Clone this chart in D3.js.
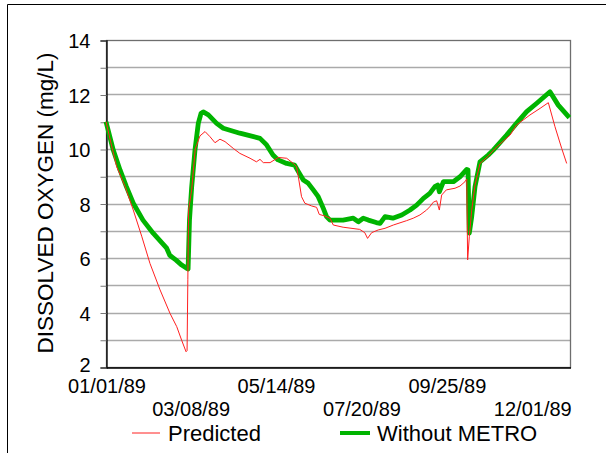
<!DOCTYPE html>
<html>
<head>
    <script src="https://d3js.org/d3.v7.min.js"></script>
    <style type="text/css">
        body { margin: 0; background: #fff; }
        svg { font-family: "Liberation Sans", Arial, sans-serif; }
    </style>
</head>
<body>
<div id="chart"></div>
<script type="text/javascript">
    // day of 1989 (0 = Jan 1), dissolved oxygen mg/L
    const predicted = [
        [0, 11.0], [5, 10.0], [8.4, 9.35], [15, 8.62], [21.4, 7.76], [28, 6.8], [34.5, 5.8],
        [42.4, 4.83], [50.2, 3.97], [55.5, 3.48], [59.3, 2.99], [62.8, 2.56], [63.6, 2.6],
        [64.2, 5.2], [64.8, 7.76], [67.2, 8.5], [70, 10.0], [73.7, 10.48], [77.7, 10.64],
        [81.6, 10.45], [85.5, 10.23], [89.4, 10.36], [93.4, 10.27], [99.9, 10.02], [105, 9.84],
        [113, 9.66], [118, 9.53], [120.8, 9.62], [123.4, 9.5], [128.7, 9.5], [135.2, 9.69],
        [141.7, 9.66], [147, 9.47], [149.5, 9.35], [150.9, 8.98], [153.4, 8.25], [156, 8.01],
        [161.3, 7.91], [165.2, 7.86], [167.3, 7.6], [171.8, 7.54], [175.7, 7.46], [178.3, 7.21],
        [186, 7.13], [199, 7.05], [203, 6.93], [205.2, 6.72], [208.4, 6.93], [213.6, 7.03],
        [218.9, 7.09], [225.4, 7.21], [235.8, 7.37], [241, 7.46], [246.3, 7.58], [251.5, 7.76],
        [254, 7.88], [256.8, 8.05], [259.4, 8.1], [261.5, 7.76], [263.3, 8.31], [267, 8.5],
        [273.8, 8.56], [277.7, 8.64], [281.6, 8.8], [283, 8.9], [283.7, 5.93], [285, 6.78],
        [286.9, 7.76], [289.5, 8.68], [293.4, 9.47], [299.9, 9.74], [305.2, 10.02], [317, 10.51],
        [322, 10.88], [332.6, 11.25], [340.5, 11.49], [347, 11.7], [352.2, 10.82], [357.5, 10.02],
        [361.4, 9.47]
    ];
    const withoutMetro = [
        [0, 11.0], [5.7, 9.96], [11, 9.23], [16, 8.62], [21.4, 8.01], [29, 7.39], [37, 6.91],
        [47.6, 6.36], [50, 6.1], [55, 5.92], [59.4, 5.74], [63.3, 5.62], [64.4, 5.6],
        [65.5, 7.4], [67.2, 8.6], [69.8, 9.96], [72.4, 10.94], [74.5, 11.3], [76.3, 11.36],
        [80.3, 11.25], [86.8, 10.94], [92, 10.76], [105, 10.58], [120.8, 10.39], [126, 10.15],
        [131, 9.78], [135, 9.6], [141.7, 9.47], [148, 9.41], [150.9, 9.17], [154.8, 8.86],
        [158.7, 8.74], [162.6, 8.5], [166.5, 8.25], [170.5, 7.82], [173, 7.52], [175.7, 7.39],
        [186, 7.39], [194, 7.46], [198, 7.33], [201.8, 7.46], [205.8, 7.39], [212, 7.3],
        [215, 7.27], [218.9, 7.52], [225, 7.46], [232, 7.58], [238.5, 7.76], [243.7, 7.94],
        [249, 8.19], [254, 8.37], [258, 8.62], [260.2, 8.68], [261.5, 8.43], [264.7, 8.8],
        [272.5, 8.8], [277.7, 8.98], [283, 9.25], [284, 9.23], [285, 6.91], [286.9, 7.52],
        [289.5, 8.62], [293.4, 9.53], [299.9, 9.78], [303.8, 9.96], [314.3, 10.51], [322, 10.94],
        [330, 11.37], [337.9, 11.68], [348.3, 12.1], [354.8, 11.61], [363.5, 11.15]
    ];
    const xTickLabels = ["01/01/89", "03/08/89", "05/14/89", "07/20/89", "09/25/89", "12/01/89"];
    const yTicks = [2, 4, 6, 8, 10, 12, 14];
    const seriesNames = ["Predicted", "Without METRO"];

    const width = 606, height = 453;
    const plotL = 106, plotR = 570, plotT = 40, plotB = 367;

    const parse = d3.timeParse("%m/%d/%y");
    const start = new Date(1989, 0, 1);
    const toDate = day => new Date(start.getTime() + day * 864e5);

    const x = d3.scaleTime()
        .domain([start, new Date(1989, 11, 31)])
        .range([plotL, plotR]);
    const y = d3.scaleLinear()
        .domain([2, 14])
        .range([plotB, plotT]);

    const svg = d3.select("#chart").append("svg")
        .attr("width", width)
        .attr("height", height);

    // outer frame
    svg.append("path")
        .attr("d", `M7.5,${height + 2}V4.5H${width + 2}`)
        .attr("fill", "none")
        .attr("stroke", "#000")
        .attr("stroke-width", 1);

    // gridlines every 1 unit
    const grid = d3.range(3, 14);
    svg.append("g")
        .selectAll("line")
        .data(grid)
        .join("line")
        .attr("x1", plotL)
        .attr("x2", plotR)
        .attr("y1", d => Math.round(y(d)) + 0.5)
        .attr("y2", d => Math.round(y(d)) + 0.5)
        .attr("stroke", "#aaaaaa")
        .attr("stroke-width", 1.5);

    // plot border
    svg.append("rect")
        .attr("x", plotL + 0.5)
        .attr("y", plotT + 0.5)
        .attr("width", plotR - plotL)
        .attr("height", plotB - plotT)
        .attr("fill", "none")
        .attr("stroke", "#6e6e6e")
        .attr("stroke-width", 1.3);

    // y axis
    const yAxis = svg.append("g")
        .attr("transform", `translate(${plotL + 0.5},0.5)`)
        .call(d3.axisLeft(y)
            .tickValues(d3.range(2, 15))
            .tickSize(6)
            .tickFormat(d => yTicks.includes(d) ? d : ""));
    yAxis.select(".domain").attr("stroke", "#000").attr("stroke-width", 1.3);
    yAxis.selectAll(".tick line").attr("stroke", "#777");
    yAxis.selectAll("text")
        .attr("font-size", 20)
        .attr("fill", "#000")
        .attr("x", -16)
        .attr("dy", d => d === 2 ? "0.2em" : "0.36em");

    // x axis
    const xDates = xTickLabels.map(parse);
    const xAxis = svg.append("g")
        .attr("transform", `translate(0.5,${plotB + 0.5})`)
        .call(d3.axisBottom(x)
            .tickValues(xDates)
            .tickSize(0)
            .tickFormat(d3.timeFormat("%m/%d/%y")));
    xAxis.select(".domain").attr("stroke", "#000").attr("stroke-width", 1.3);
    xAxis.selectAll("text")
        .attr("font-size", 20)
        .attr("fill", "#000")
        .attr("dy", 0)
        .attr("y", (d, i) => i % 2 === 0 ? 25 : 48);

    // y title
    svg.append("text")
        .attr("transform", `translate(53,203) rotate(-90)`)
        .attr("text-anchor", "middle")
        .attr("font-size", 22.5)
        .text("DISSOLVED OXYGEN (mg/L)");

    const line = d3.line()
        .x(d => x(toDate(d[0])))
        .y(d => y(d[1]));

    svg.append("path")
        .datum(withoutMetro)
        .attr("d", line)
        .attr("fill", "none")
        .attr("stroke", "#00b400")
        .attr("stroke-width", 4.8)
        .attr("stroke-linejoin", "round");

    svg.append("path")
        .datum(predicted)
        .attr("d", line)
        .attr("fill", "none")
        .attr("stroke", "#ff2020")
        .attr("stroke-width", 1);

    // legend
    const legend = [
        { name: seriesNames[0], color: "#ff2020", w: 1, x1: 132, x2: 160, tx: 168 },
        { name: seriesNames[1], color: "#00b400", w: 4, x1: 340, x2: 370, tx: 377 }
    ];
    const lg = svg.append("g").selectAll("g").data(legend).join("g");
    lg.append("line")
        .attr("x1", d => d.x1).attr("x2", d => d.x2)
        .attr("y1", 433).attr("y2", 433)
        .attr("stroke", d => d.color)
        .attr("stroke-width", d => d.w);
    lg.append("text")
        .attr("x", d => d.tx)
        .attr("y", 441)
        .attr("font-size", 22)
        .text(d => d.name);
</script>
</body>
</html>
